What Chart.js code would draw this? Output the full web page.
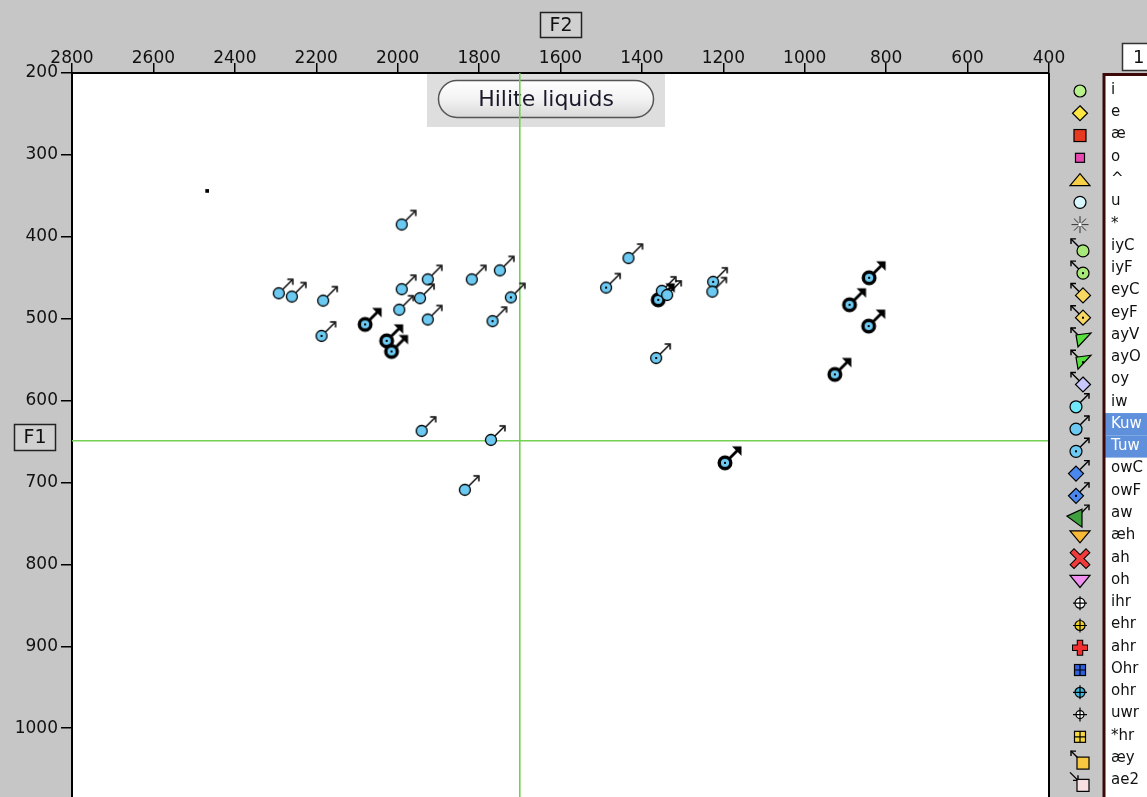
<!DOCTYPE html>
<html>
<head>
<meta charset="utf-8">
<script src="https://cdn.jsdelivr.net/npm/chart.js@4.4.1/dist/chart.umd.min.js"></script>
<style>
  html, body { margin: 0; padding: 0; background: #c6c6c6; overflow: hidden; }
  #wrap { width: 1147px; height: 797px; }
  canvas { display: block; }
</style>
</head>
<body>
<div id="wrap"><canvas id="plot" width="1147" height="797"></canvas></div>
<script>
// Vowel classes shown in the side list
const vowelClasses = ['i','e','æ','o','^','u','*','iyC','iyF','eyC','eyF','ayV','ayO','oy','iw',
  'Kuw','Tuw','owC','owF','aw','æh','ah','oh','ihr','ehr','ahr','Ohr','ohr','uwr','*hr','æy','ae2'];
const selectedClasses = ['Kuw', 'Tuw'];

// Axis tick values (Hz)
const f2Ticks = [2800, 2600, 2400, 2200, 2000, 1800, 1600, 1400, 1200, 1000, 800, 600, 400];
const f1Ticks = [200, 300, 400, 500, 600, 700, 800, 900, 1000];

// Kuw tokens
const kuwF2 = [2292, 2260, 2183, 1990, 1990, 1926, 1945, 1996, 1926, 1818, 1749, 1433, 1351, 1338, 1227, 1941, 1771, 1835];
const kuwF1 = [469, 473, 478, 385, 464, 452, 475, 489, 501, 452, 441, 426, 466, 471, 467, 637, 648, 709];
// Tuw tokens
const tuwF2 = [1722, 1767, 2187, 1488, 1225, 1365];
const tuwF1 = [474, 503, 521, 462, 455, 548];
// Tuw tokens after liquids (highlighted)
const liquidF2 = [2080, 2027, 2015, 1360, 842, 890, 843, 926, 1196];
const liquidF1 = [507, 527, 540, 477, 450, 483, 509, 568, 676];
// unlabelled token
const strayF2 = [2468];
const strayF1 = [344];
// mean crosshair
const meanF2 = 1700;
const meanF1 = 649;

const F2_MIN = 400, F2_MAX = 2800, F1_MIN = 200, F1_MAX = 1084;

const toPoints = (xs, ys) => xs.map((x, i) => ({ x: x, y: ys[i] }));

// Marker glyph: circle with an arrow to the upper right
function makeMarker(dot, bold) {
  const s = 44, c = document.createElement('canvas');
  c.width = s; c.height = s;
  const g = c.getContext('2d');
  const cx = s / 2, cy = s / 2;
  g.strokeStyle = '#000'; g.fillStyle = '#000';
  g.lineWidth = bold ? 2.8 : 1.5;
  g.beginPath(); g.moveTo(cx + 4, cy - 4); g.lineTo(cx + 13, cy - 13); g.stroke();
  if (bold) {
    g.beginPath(); g.moveTo(cx + 16.5, cy - 16.5); g.lineTo(cx + 7, cy - 16.5); g.lineTo(cx + 16.5, cy - 7); g.closePath(); g.fill();
  } else {
    g.beginPath(); g.moveTo(cx + 8.5, cy - 14); g.lineTo(cx + 14, cy - 14); g.lineTo(cx + 14, cy - 8.5); g.stroke();
  }
  g.beginPath(); g.arc(cx, cy, bold ? 5.8 : 5.5, 0, Math.PI * 2);
  g.fillStyle = '#6ccaf2'; g.fill();
  g.lineWidth = bold ? 3.4 : 1.3; g.strokeStyle = '#000'; g.stroke();
  if (dot) { g.fillStyle = '#000'; g.fillRect(cx - 1, cy - 1, 2, 2); }
  return c;
}

// Legend icon specs
const iconSpec = {
  'i':   { shape: 'circle', fill: '#b8f08c' },
  'e':   { shape: 'diamond', fill: '#ffe640' },
  'æ':   { shape: 'square', fill: '#e83a20' },
  'o':   { shape: 'smallsq', fill: '#e848b0' },
  '^':   { shape: 'triUp', fill: '#f8d048' },
  'u':   { shape: 'circle', fill: '#d8f8ff' },
  '*':   { shape: 'star', fill: '#888' },
  'iyC': { shape: 'circle', fill: '#a8e878', arrow: 'UL' },
  'iyF': { shape: 'circle', fill: '#a8e878', arrow: 'UL', dot: true },
  'eyC': { shape: 'diamond', fill: '#f8d860', arrow: 'UL' },
  'eyF': { shape: 'diamond', fill: '#f8d860', arrow: 'UL', dot: true },
  'ayV': { shape: 'triA', fill: '#58e040', arrow: 'UL' },
  'ayO': { shape: 'triA', fill: '#58e040', arrow: 'UL', dot: true },
  'oy':  { shape: 'diamond', fill: '#c8c8ff', arrow: 'UL' },
  'iw':  { shape: 'circle', fill: '#70e8f8', arrow: 'UR' },
  'Kuw': { shape: 'circle', fill: '#6ccaf2', arrow: 'UR' },
  'Tuw': { shape: 'circle', fill: '#6ccaf2', arrow: 'UR', dot: true },
  'owC': { shape: 'diamond', fill: '#4a88f0', arrow: 'UR' },
  'owF': { shape: 'diamond', fill: '#4a88f0', arrow: 'UR', dot: true },
  'aw':  { shape: 'triB', fill: '#40a040', arrow: 'UR' },
  'æh':  { shape: 'triDown', fill: '#f8b838' },
  'ah':  { shape: 'xmark', fill: '#f03a3a' },
  'oh':  { shape: 'triDown', fill: '#f090f0' },
  'ihr': { shape: 'crossCircle', fill: '#ffffff' },
  'ehr': { shape: 'crossCircle', fill: '#f0d020' },
  'ahr': { shape: 'plus', fill: '#f03030' },
  'Ohr': { shape: 'grid', fill: '#3060e0' },
  'ohr': { shape: 'crossCircle', fill: '#40b8e0' },
  'uwr': { shape: 'crossCircle', fill: '#ffffff', thin: true },
  '*hr': { shape: 'grid', fill: '#f8d840' },
  'æy':  { shape: 'square', fill: '#f8c840', arrow: 'UL' },
  'ae2': { shape: 'square', fill: '#f8e0e0', arrow: 'IN' }
};

function poly(g, pts, fill) {
  g.beginPath(); g.moveTo(pts[0][0], pts[0][1]);
  for (let k = 1; k < pts.length; k++) g.lineTo(pts[k][0], pts[k][1]);
  g.closePath(); g.fillStyle = fill; g.fill(); g.lineWidth = 1.2; g.strokeStyle = '#000'; g.stroke();
}

function drawShape(g, spec, x, y) {
  g.save();
  g.lineWidth = 1.2; g.strokeStyle = '#000';
  const f = spec.fill;
  switch (spec.shape) {
    case 'circle':
      g.beginPath(); g.arc(x, y, 6, 0, Math.PI * 2); g.fillStyle = f; g.fill(); g.stroke(); break;
    case 'diamond':
      poly(g, [[x, y - 7.5], [x + 7.5, y], [x, y + 7.5], [x - 7.5, y]], f); break;
    case 'square':
      g.fillStyle = f; g.fillRect(x - 6, y - 6, 12, 12); g.strokeRect(x - 6, y - 6, 12, 12); break;
    case 'smallsq':
      g.fillStyle = f; g.fillRect(x - 4.5, y - 4.5, 9, 9); g.strokeRect(x - 4.5, y - 4.5, 9, 9); break;
    case 'triUp':
      poly(g, [[x - 10, y + 5.5], [x + 10, y + 5.5], [x, y - 6.5]], f); break;
    case 'triDown':
      poly(g, [[x - 10, y - 5.5], [x + 10, y - 5.5], [x, y + 6.5]], f); break;
    case 'triA':
      poly(g, [[x - 7, y - 5], [x + 8, y - 7], [x - 5, y + 7]], f); break;
    case 'triB':
      poly(g, [[x - 9, y - 2], [x + 6, y - 9], [x + 6, y + 9]], f); break;
    case 'star':
      g.strokeStyle = '#333'; g.lineWidth = 1;
      for (let a = 0; a < 8; a++) {
        const t = a * Math.PI / 4;
        g.beginPath(); g.moveTo(x, y); g.lineTo(x + 8.5 * Math.cos(t), y + 8.5 * Math.sin(t)); g.stroke();
      }
      g.fillStyle = '#fff'; g.fillRect(x - 1.5, y - 1.5, 3, 3); break;
    case 'xmark':
      g.lineCap = 'square';
      g.strokeStyle = '#000'; g.lineWidth = 6.5;
      g.beginPath(); g.moveTo(x - 6, y - 6); g.lineTo(x + 6, y + 6); g.moveTo(x + 6, y - 6); g.lineTo(x - 6, y + 6); g.stroke();
      g.strokeStyle = f; g.lineWidth = 4.5;
      g.beginPath(); g.moveTo(x - 6, y - 6); g.lineTo(x + 6, y + 6); g.moveTo(x + 6, y - 6); g.lineTo(x - 6, y + 6); g.stroke();
      break;
    case 'plus':
      g.lineCap = 'butt';
      g.strokeStyle = '#000'; g.lineWidth = 6.5;
      g.beginPath(); g.moveTo(x - 8, y); g.lineTo(x + 8, y); g.moveTo(x, y - 8); g.lineTo(x, y + 8); g.stroke();
      g.strokeStyle = f; g.lineWidth = 4.5;
      g.beginPath(); g.moveTo(x - 7, y); g.lineTo(x + 7, y); g.moveTo(x, y - 7); g.lineTo(x, y + 7); g.stroke();
      break;
    case 'crossCircle':
      g.beginPath(); g.arc(x, y, spec.thin ? 4 : 5, 0, Math.PI * 2); g.fillStyle = f; g.fill(); g.stroke();
      g.beginPath(); g.moveTo(x - 7, y); g.lineTo(x + 7, y); g.moveTo(x, y - 7); g.lineTo(x, y + 7); g.stroke();
      break;
    case 'grid':
      g.fillStyle = f; g.fillRect(x - 5.5, y - 5.5, 11, 11); g.strokeRect(x - 5.5, y - 5.5, 11, 11);
      g.beginPath(); g.moveTo(x - 5.5, y); g.lineTo(x + 5.5, y); g.moveTo(x, y - 5.5); g.lineTo(x, y + 5.5); g.stroke();
      break;
  }
  if (spec.dot) { g.fillStyle = '#000'; g.fillRect(x - 1, y - 1, 2, 2); }
  g.restore();
}

function drawArrow(g, x0, y0, x1, y1) {
  g.save();
  g.strokeStyle = '#000'; g.lineWidth = 1.4;
  g.beginPath(); g.moveTo(x0, y0); g.lineTo(x1, y1); g.stroke();
  const sx = Math.sign(x1 - x0), sy = Math.sign(y1 - y0);
  g.beginPath();
  g.moveTo(x1 - sx * 5, y1); g.lineTo(x1, y1); g.lineTo(x1, y1 - sy * 5);
  g.stroke();
  g.restore();
}

function drawIcon(g, name, rowY) {
  const spec = iconSpec[name];
  if (!spec) return;
  if (spec.arrow === 'UL') {
    const x = 1083, y = rowY + 5;
    drawArrow(g, x - 4, y - 4, x - 12, y - 12);
    drawShape(g, spec, x, y);
  } else if (spec.arrow === 'UR') {
    const x = 1076, y = rowY + 5;
    drawArrow(g, x + 4, y - 4, x + 13, y - 13);
    drawShape(g, spec, x, y);
  } else if (spec.arrow === 'IN') {
    const x = 1083, y = rowY + 5;
    drawArrow(g, x - 13, y - 13, x - 5, y - 5);
    drawShape(g, spec, x, y);
  } else {
    drawShape(g, spec, 1080, rowY + 1);
  }
}

function boxedLabel(g, text, x, y, w, h, fill) {
  g.save();
  g.fillStyle = fill; g.fillRect(x, y, w, h);
  g.strokeStyle = '#222'; g.lineWidth = 1.5; g.strokeRect(x + 0.5, y + 0.5, w - 1, h - 1);
  g.fillStyle = '#111'; g.font = '19px "DejaVu Sans"';
  g.textAlign = 'center'; g.textBaseline = 'middle';
  g.fillText(text, x + w / 2, y + h / 2 + 1);
  g.restore();
}

const framePlugin = {
  id: 'frame',
  beforeDraw(chart) {
    const g = chart.ctx, a = chart.chartArea;
    g.save();
    g.fillStyle = '#c6c6c6'; g.fillRect(0, 0, chart.width, chart.height);
    g.fillStyle = '#ffffff'; g.fillRect(a.left, a.top, a.right - a.left, a.bottom - a.top);
    g.restore();
  },
  beforeDatasetsDraw(chart) {
    const g = chart.ctx;
    g.save();
    // button panel
    g.fillStyle = '#dedede'; g.fillRect(427, 74, 238, 53);
    const bx = 438.5, by = 80.5, bw = 215, bh = 37, r = bh / 2;
    const grad = g.createLinearGradient(0, by, 0, by + bh);
    grad.addColorStop(0, '#ffffff'); grad.addColorStop(0.5, '#f3f3f3'); grad.addColorStop(1, '#d8d8d8');
    g.beginPath();
    g.moveTo(bx + r, by);
    g.lineTo(bx + bw - r, by);
    g.arc(bx + bw - r, by + r, r, -Math.PI / 2, Math.PI / 2);
    g.lineTo(bx + r, by + bh);
    g.arc(bx + r, by + r, r, Math.PI / 2, Math.PI * 1.5);
    g.closePath();
    g.fillStyle = grad; g.fill();
    g.strokeStyle = '#555'; g.lineWidth = 1.5; g.stroke();
    g.fillStyle = '#1a1a2a'; g.font = '22px "DejaVu Sans"';
    g.textAlign = 'center'; g.textBaseline = 'middle';
    g.fillText('Hilite liquids', bx + bw / 2, by + bh / 2 + 1);
    g.restore();
  },
  afterDraw(chart) {
    const g = chart.ctx, a = chart.chartArea;
    g.save();
    // right edge of the plot
    g.strokeStyle = '#000'; g.lineWidth = 2;
    g.beginPath(); g.moveTo(a.right, a.top); g.lineTo(a.right, a.bottom); g.stroke();
    // axis name boxes
    boxedLabel(g, 'F2', 540, 12, 42, 26, '#d0d0d0');
    boxedLabel(g, 'F1', 14, 424, 42, 27, '#d0d0d0');
    // list box
    g.fillStyle = '#ffffff'; g.fillRect(1103, 74, 50, 730);
    const y0 = 90, step = 22.27;
    selectedClasses.forEach(name => {
      const k = vowelClasses.indexOf(name);
      g.fillStyle = '#5e90dc';
      g.fillRect(1105, y0 + k * step - 11, 50, step);
    });
    g.strokeStyle = '#3c0808'; g.lineWidth = 3;
    g.beginPath(); g.moveTo(1104, 800); g.lineTo(1104, 74.5); g.lineTo(1150, 74.5); g.stroke();
    g.font = '15px "DejaVu Sans"'; g.textBaseline = 'middle'; g.textAlign = 'left';
    vowelClasses.forEach((name, k) => {
      const ry = y0 + k * step;
      g.fillStyle = selectedClasses.includes(name) ? '#ffffff' : '#111';
      g.fillText(name, 1111, ry);
      drawIcon(g, name, ry);
    });
    // page number box
    g.fillStyle = '#ffffff'; g.fillRect(1122, 43, 30, 28);
    g.strokeStyle = '#333'; g.lineWidth = 1.5; g.strokeRect(1122.5, 43.5, 30, 27);
    g.fillStyle = '#111'; g.font = '18px "DejaVu Sans"'; g.textAlign = 'left';
    g.fillText('1', 1133, 58);
    g.restore();
  }
};

const tickFont = { family: 'DejaVu Sans', size: 17 };
const plainNumber = v => String(v);

new Chart(document.getElementById('plot'), {
  type: 'scatter',
  data: {
    datasets: [
      { label: 'Kuw', data: toPoints(kuwF2, kuwF1), pointStyle: makeMarker(false, false), pointRadius: 6, order: 1 },
      { label: 'Tuw', data: toPoints(tuwF2, tuwF1), pointStyle: makeMarker(true, false), pointRadius: 6, order: 2 },
      { label: 'Tuw liquids', data: toPoints(liquidF2, liquidF1), pointStyle: makeMarker(true, true), pointRadius: 6, order: 3 },
      { label: 'other', data: toPoints(strayF2, strayF1), pointStyle: 'rect', pointRadius: 2.6, backgroundColor: '#000', borderColor: '#000', borderWidth: 0, order: 3 },
      { label: 'F1 mean', data: [{ x: F2_MIN, y: meanF1 }, { x: F2_MAX, y: meanF1 }], showLine: true, borderColor: '#72d052', borderWidth: 1.6, pointRadius: 0, order: 5 },
      { label: 'F2 mean', data: [{ x: meanF2, y: F1_MIN }, { x: meanF2, y: F1_MAX }], showLine: true, borderColor: '#72d052', borderWidth: 1.6, pointRadius: 0, order: 5 }
    ]
  },
  options: {
    responsive: false,
    animation: false,
    events: [],
    layout: { autoPadding: false, padding: { left: 0, right: 98, top: 0, bottom: 0 } },
    plugins: { legend: { display: false }, tooltip: { enabled: false } },
    scales: {
      x: {
        type: 'linear', position: 'top', reverse: true, min: F2_MIN, max: F2_MAX,
        afterBuildTicks: s => { s.ticks = f2Ticks.map(v => ({ value: v })); },
        afterFit: s => { s.height = 73; s.paddingLeft = 0; s.paddingRight = 0; },
        grid: { display: true, drawOnChartArea: false, drawTicks: true, tickLength: 10, color: '#000', lineWidth: 1.5 },
        border: { display: true, color: '#000', width: 2 },
        ticks: { color: '#111', font: tickFont, padding: -6, maxRotation: 0, autoSkip: false, callback: plainNumber }
      },
      y: {
        type: 'linear', position: 'left', reverse: true, min: F1_MIN, max: F1_MAX,
        afterBuildTicks: s => { s.ticks = f1Ticks.map(v => ({ value: v })); },
        afterFit: s => { s.width = 72; s.paddingTop = 0; s.paddingBottom = 0; },
        grid: { display: true, drawOnChartArea: false, drawTicks: true, tickLength: 11, color: '#000', lineWidth: 1.5 },
        border: { display: true, color: '#000', width: 2 },
        ticks: { color: '#111', font: tickFont, padding: 3, autoSkip: false, callback: plainNumber }
      }
    }
  },
  plugins: [framePlugin]
});
</script>
</body>
</html>
